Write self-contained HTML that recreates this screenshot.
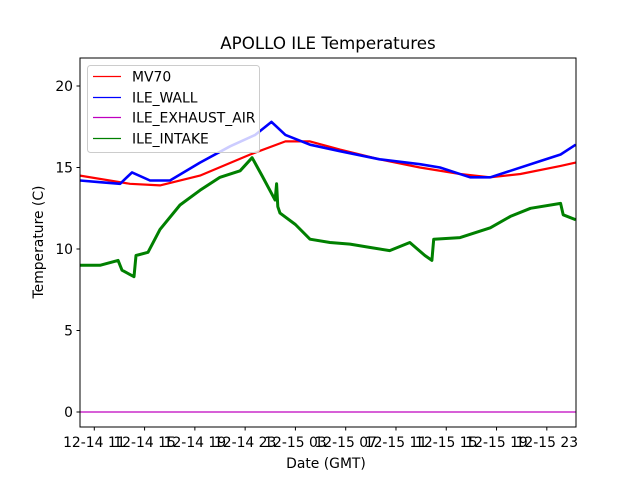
<!DOCTYPE html>
<html><head><meta charset="utf-8"><style>
body{margin:0;background:#fff}
svg{display:block;font-family:"DejaVu Sans","Liberation Sans",sans-serif}
</style></head><body>
<svg id="chart" width="640" height="480">
<rect width="640" height="480" fill="#fff"/>
</svg>
<script>
const tickLabels=["12-14 11","12-14 15","12-14 19","12-14 23","12-15 03","12-15 07","12-15 11","12-15 15","12-15 19","12-15 23"];
const yTicks=[0,5,10,15,20];
const mvTimes=[-1.14,2.84,5.23,8.41,12.4,15.2,17.16,19.55,22.7,25.9,29.1,31.5,33.9,37.1,38.3];
const mvVals=[14.5,14.0,13.9,14.5,15.8,16.6,16.6,16.1,15.5,15.0,14.6,14.4,14.6,15.1,15.3];
const wallTimes=[-1.14,0.45,2.05,3.0,4.43,6.02,8.41,10.8,12.8,14.1,15.2,17.16,19.55,22.7,25.9,27.5,29.9,31.5,33.1,35.5,37.1,38.3];
const wallVals=[14.2,14.1,14.0,14.7,14.2,14.2,15.3,16.3,17.0,17.8,17.0,16.4,16.0,15.5,15.2,15.0,14.4,14.4,14.8,15.4,15.8,16.4];
const intakeTimes=[-1.14,0.45,1.89,2.20,3.16,3.32,4.27,5.23,6.82,8.41,10.0,11.6,12.55,13.34,14.38,14.5,14.6,14.77,16.0,17.16,18.75,20.34,21.9,23.5,25.1,26.3,26.86,27.0,29.1,31.5,33.1,34.7,37.1,37.3,38.3];
const intakeVals=[9.0,9.0,9.3,8.7,8.3,9.6,9.8,11.2,12.7,13.6,14.4,14.8,15.6,14.5,13.0,14.0,12.6,12.2,11.5,10.6,10.4,10.3,10.1,9.9,10.4,9.6,9.3,10.6,10.7,11.3,12.0,12.5,12.8,12.1,11.8];
const exhaustTimes=[-1.14,38.3];
const exhaustVals=[0,0];

const NS="http://www.w3.org/2000/svg";
const svg=document.getElementById('chart');
const L=80,R=576,T=58,B=427;
const FS=13.9;
const xs=t=>94.3+12.57*t;
const ys=v=>412-16.3*v;
function mk(tag,attrs,parent){const e=document.createElementNS(NS,tag);for(const k in attrs)e.setAttribute(k,attrs[k]);(parent||svg).appendChild(e);return e;}
const defs=mk('defs',{});const cp=mk('clipPath',{id:'clip'},defs);mk('rect',{x:L,y:T,width:R-L,height:B-T},cp);
const plot=mk('g',{'clip-path':'url(#clip)'});


function line(times,vals,color,w,name){
  const d=times.map((t,i)=>(i?'L':'M')+xs(t).toFixed(1)+','+ys(vals[i]).toFixed(1)).join(' ');
  const p=mk('path',{d:d,fill:'none',stroke:color,'stroke-width':w,'stroke-linejoin':'round'},plot);
  
  
}
line(intakeTimes,intakeVals,'#008000',3,'ile-intake-line');
line(mvTimes,mvVals,'#ff0000',2.2,'mv70-line');
line(wallTimes,wallVals,'#0000ff',2.6,'ile-wall-line');
line(exhaustTimes,exhaustVals,'#bf00bf',1.2,'ile-exhaust-air-line');
const fr=mk('rect',{x:L,y:T,width:R-L,height:B-T,fill:'none',stroke:'#000','stroke-width':1});


yTicks.forEach(v=>{
  mk('line',{x1:L-3.5,x2:L,y1:ys(v),y2:ys(v),stroke:'#000'});
  const t=mk('text',{x:L-7,y:ys(v)+5,'text-anchor':'end','font-size':FS});t.textContent=v;
  
  
});
tickLabels.forEach((s,i)=>{
  const x=xs(i*4);
  mk('line',{x1:x,x2:x,y1:B,y2:B+3.5,stroke:'#000'});
  const t=mk('text',{x:x,y:B+20,'text-anchor':'middle','font-size':FS});t.textContent=s;
  
  
});
const lg=mk('g',{});


mk('rect',{x:87.5,y:65.5,width:172,height:87,rx:3,fill:'#fff','fill-opacity':0.8,stroke:'#ccc'},lg);
const names=['MV70','ILE_WALL','ILE_EXHAUST_AIR','ILE_INTAKE'];
const cols=['#ff0000','#0000ff','#bf00bf','#008000'];
names.forEach((n,i)=>{
  const y=Math.round(76+i*20.7)+0.5;
  mk('line',{x1:93,x2:121,y1:y,y2:y,stroke:cols[i],'stroke-width':1.3},lg);
  const t=mk('text',{x:132,y:y+5,'font-size':FS},lg);t.textContent=n;
  
  
});
const tt=mk('text',{x:328,y:49,'text-anchor':'middle','font-size':16.7});tt.textContent='APOLLO ILE Temperatures';


const xt=mk('text',{x:326,y:468,'text-anchor':'middle','font-size':FS});xt.textContent='Date (GMT)';


const yt=mk('text',{transform:'translate(43,242) rotate(-90)','text-anchor':'middle','font-size':FS});yt.textContent='Temperature (C)';


</script>
</body></html>
